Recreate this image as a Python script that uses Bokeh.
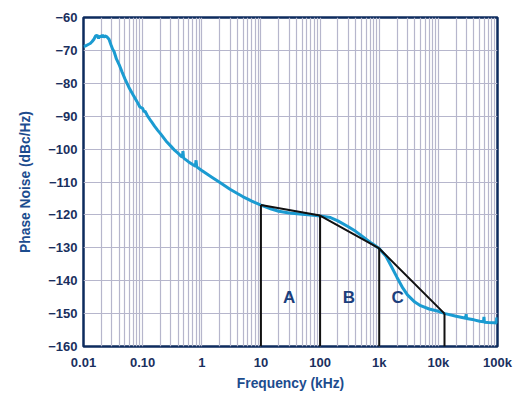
from bokeh.plotting import figure
from bokeh.models import FixedTicker, ColumnDataSource
from bokeh.core.properties import value
from bokeh.embed import file_html
from bokeh.resources import INLINE

# Measured phase noise curve (frequency in kHz, dBc/Hz)
freq_khz = [0.01, 0.011, 0.012, 0.013, 0.014, 0.015, 0.016, 0.017, 0.018, 0.019,
            0.020, 0.021, 0.022, 0.023, 0.025, 0.027, 0.029, 0.031, 0.033, 0.036,
            0.04, 0.045, 0.05, 0.06, 0.07, 0.08, 0.09, 0.10, 0.105, 0.11, 0.12,
            0.14, 0.16, 0.18, 0.2, 0.25, 0.3, 0.35, 0.4, 0.45, 0.47, 0.48, 0.49,
            0.5, 0.6, 0.7, 0.78, 0.80, 0.82, 1.0, 1.5, 2, 3, 4, 5, 6, 7, 8, 10,
            15, 20, 30, 50, 70, 100, 150, 200, 300, 400, 500, 600, 700, 800,
            1000, 1300, 1600, 2000, 2500, 3000, 4000, 5000, 7000, 10000, 13000,
            20000, 29000, 29500, 30000, 40000, 50000, 58000, 59000, 60000, 70000,
            90000, 96000, 97000, 100000]
noise_db = [-68.8, -68.6, -68.2, -67.9, -67.3, -66.6, -65.6, -65.4, -66.3, -65.6,
            -65.9, -65.3, -66.0, -65.6, -65.9, -66.6, -68.2, -69.6, -70.4, -72.6,
            -74.3, -76.6, -78.6, -81.6, -83.7, -85.5, -87.2, -87.6, -88.6, -88.5,
            -89.8, -91.6, -93.1, -94.3, -95.3, -97.6, -99.1, -100.4, -101.3, -102.2,
            -102.4, -100.6, -102.5, -102.8, -103.9, -104.7, -105.2, -103.4, -105.4,
            -106.5, -108.6, -110.1, -112.2, -113.5, -114.5, -115.2, -115.8, -116.3,
            -117.0, -118.2, -118.9, -119.4, -119.8, -120.0, -120.3, -120.8, -121.8,
            -123.6, -125.0, -126.3, -127.4, -128.3, -129.0, -130.2, -132.6, -135.6,
            -139.0, -142.2, -144.3, -146.5, -147.6, -148.6, -149.3, -150.0, -150.8,
            -151.4, -150.2, -151.5, -151.9, -152.3, -152.5, -151.0, -152.6, -152.7,
            -152.8, -152.9, -151.2, -152.9]

# Piecewise-linear approximation (regions A, B, C)
corner_khz = [10, 100, 1000, 12700]
corner_db = [-117.0, -120.2, -130.2, -150.0]
floor_db = -160

region_labels = ["A", "B", "C"]
region_label_khz = [30, 306, 2040]
region_label_db = [-145.2, -145.2, -145.2]

x_ticks = [0.01, 0.1, 1, 10, 100, 1000, 10000, 100000]
x_tick_labels = ["0.01", "0.10", "1", "10", "100", "1k", "10k", "100k"]
y_ticks = [-160, -150, -140, -130, -120, -110, -100, -90, -80, -70, -60]

NAVY = "#0d2b5e"
LABEL = "#1a2f5e"
TITLE = "#1c4c8e"
GRID = "#b6b6cc"

p = figure(width=520, height=396, x_axis_type="log",
           x_range=(0.01, 100000), y_range=(-160, -60),
           output_backend="svg", toolbar_location=None,
           min_border_left=83, min_border_right=23,
           min_border_top=17, min_border_bottom=50)

minor = []
for d in [0.01, 0.1, 1, 10, 100, 1000, 10000]:
    for k in range(2, 10):
        minor.append(d * k)

p.xaxis.ticker = FixedTicker(ticks=x_ticks, minor_ticks=minor)
p.xaxis.major_label_overrides = {t: l for t, l in zip(x_ticks, x_tick_labels)}
p.yaxis.ticker = FixedTicker(ticks=y_ticks)
p.yaxis.major_label_overrides = {t: ("\u2212" + str(-t)) for t in y_ticks}

for ax in (p.xaxis, p.yaxis):
    ax.axis_line_color = None
    ax.major_tick_line_color = None
    ax.minor_tick_line_color = None
    ax.major_tick_out = 0
    ax.major_tick_in = 0
    ax.minor_tick_out = 0
    ax.minor_tick_in = 0
    ax.major_label_text_font = "Liberation Sans"
    ax.major_label_text_font_style = "bold"
    ax.major_label_text_font_size = "13px"
    ax.major_label_text_color = LABEL
    ax.axis_label_text_font = "Liberation Sans"
    ax.axis_label_text_font_style = "bold"
    ax.axis_label_text_font_size = "13.8px"
    ax.axis_label_text_color = TITLE

p.xaxis.major_label_standoff = 8
p.xaxis.axis_label_standoff = 3
p.yaxis.major_label_standoff = 6
p.yaxis.axis_label_standoff = 12
p.xaxis.axis_label = "Frequency (kHz)"
p.yaxis.axis_label = "Phase Noise (dBc/Hz)"

p.xgrid.grid_line_color = GRID
p.xgrid.grid_line_width = 1.2
p.xgrid.minor_grid_line_color = GRID
p.xgrid.minor_grid_line_width = 1.2
p.ygrid.grid_line_color = GRID
p.ygrid.grid_line_width = 1.2

p.outline_line_color = NAVY
p.outline_line_width = 2.5
p.background_fill_color = "white"
p.border_fill_color = "white"

# measured curve
p.line(freq_khz, noise_db, line_color="#1b9bd1", line_width=3)

# approximation lines
p.line(corner_khz, corner_db, line_color="#111111", line_width=2)
p.segment(x0=corner_khz, y0=[floor_db] * len(corner_khz),
          x1=corner_khz, y1=corner_db, line_color="#111111", line_width=2)

src = ColumnDataSource(dict(x=region_label_khz, y=region_label_db, t=region_labels))
p.text(x="x", y="y", text="t", source=src, text_align="center",
       text_baseline="middle", text_font=value("Liberation Sans"),
       text_font_style="bold", text_font_size="17px", text_color="#1c3f7c")

open("out.html", "w").write(file_html(p, INLINE))
